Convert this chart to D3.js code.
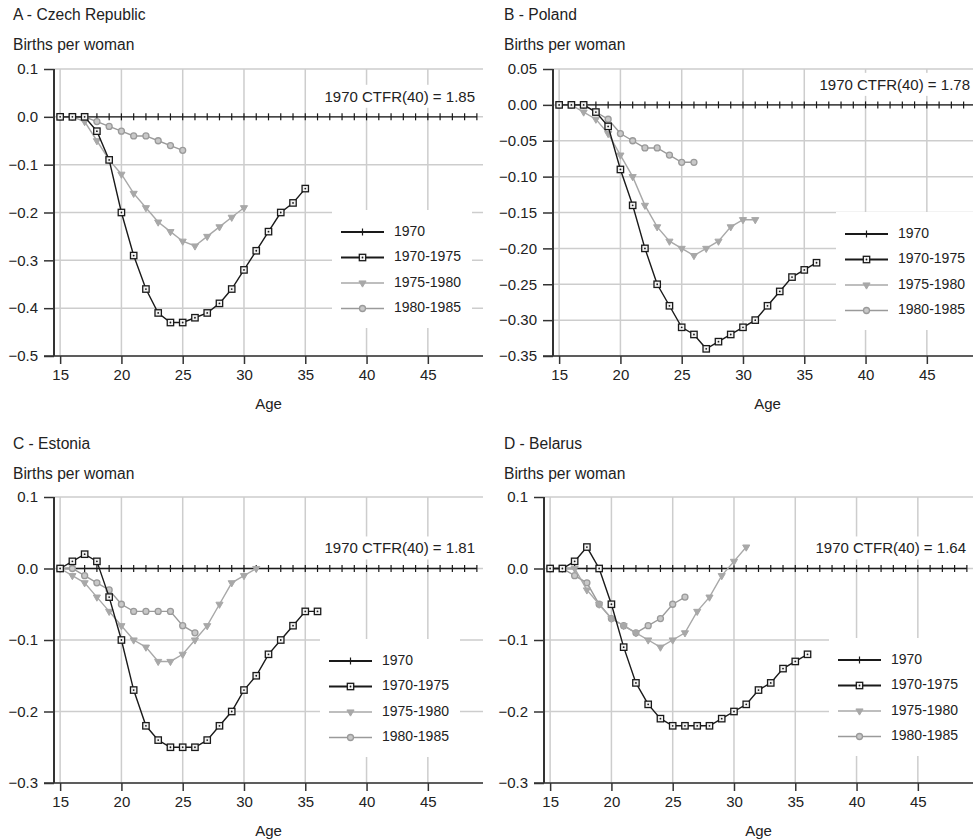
<!DOCTYPE html>
<meta charset="utf-8">
<script src="https://d3js.org/d3.v7.min.js"></script>
<style type="text/css">
body { margin: 0; background: #fff; }
text { font-family: "Liberation Sans", Arial, sans-serif; font-size: 15px; fill: #222; }
.titulo { font-size: 15.6px; }
.grade line { stroke: #cdcdcd; stroke-width: 1.5; }
.eixo path, .eixo line { stroke: #333; }
</style>
<body>
<svg id="canvas" width="973" height="840"></svg>
<script>

// idades (eixo X)
var ages = [15,16,17,18,19,20,21,22,23,24,25,26,27,28,29,30,31,32,33,34,35,36,37,38,39,40,41,42,43,44,45,46,47,48,49];
var seriesNames = ["1970", "1970-1975", "1975-1980", "1980-1985"];

// valores a partir dos 15 anos
var base1970 = [0,0,0,0,0,0,0,0,0,0,0,0,0,0,0,0,0,0,0,0,0,0,0,0,0,0,0,0,0,0,0,0,0,0,0];

var czech7075 = [0,0,0,-0.03,-0.09,-0.20,-0.29,-0.36,-0.41,-0.43,-0.43,-0.42,-0.41,-0.39,-0.36,-0.32,-0.28,-0.24,-0.20,-0.18,-0.15];
var czech7580 = [0,0,-0.01,-0.05,-0.09,-0.12,-0.16,-0.19,-0.22,-0.24,-0.26,-0.27,-0.25,-0.23,-0.21,-0.19];
var czech8085 = [0,0,0,-0.01,-0.02,-0.03,-0.04,-0.04,-0.05,-0.06,-0.07];

var poland7075 = [0,0,0,-0.01,-0.03,-0.09,-0.14,-0.20,-0.25,-0.28,-0.31,-0.32,-0.34,-0.33,-0.32,-0.31,-0.30,-0.28,-0.26,-0.24,-0.23,-0.22];
var poland7580 = [0,0,-0.01,-0.02,-0.04,-0.07,-0.10,-0.14,-0.17,-0.19,-0.20,-0.21,-0.20,-0.19,-0.17,-0.16,-0.16];
var poland8085 = [0,0,0,-0.01,-0.02,-0.04,-0.05,-0.06,-0.06,-0.07,-0.08,-0.08];

var estonia7075 = [0,0.01,0.02,0.01,-0.04,-0.10,-0.17,-0.22,-0.24,-0.25,-0.25,-0.25,-0.24,-0.22,-0.20,-0.17,-0.15,-0.12,-0.10,-0.08,-0.06,-0.06];
var estonia7580 = [0,-0.01,-0.02,-0.04,-0.06,-0.08,-0.10,-0.11,-0.13,-0.13,-0.12,-0.10,-0.08,-0.05,-0.02,-0.01,0];
var estonia8085 = [0,0,-0.01,-0.02,-0.03,-0.05,-0.06,-0.06,-0.06,-0.06,-0.08,-0.09];

var belarus7075 = [0,0,0.01,0.03,0,-0.05,-0.11,-0.16,-0.19,-0.21,-0.22,-0.22,-0.22,-0.22,-0.21,-0.20,-0.19,-0.17,-0.16,-0.14,-0.13,-0.12];
var belarus7580 = [0,0,0,-0.03,-0.05,-0.07,-0.08,-0.09,-0.10,-0.11,-0.10,-0.09,-0.06,-0.04,-0.01,0.01,0.03];
var belarus8085 = [0,0,-0.01,-0.02,-0.05,-0.07,-0.08,-0.09,-0.08,-0.07,-0.05,-0.04];

var czechTicks = [0.1,0,-0.1,-0.2,-0.3,-0.4,-0.5];
var polandTicks = [0.05,0,-0.05,-0.10,-0.15,-0.20,-0.25,-0.30,-0.35];
var smallTicks = [0.1,0,-0.1,-0.2,-0.3];
var ageTicks = [15,20,25,30,35,40,45];

var paineis = [
    {title: "A - Czech Republic", ctfr: "1.85", s: [base1970, czech7075, czech7580, czech8085],
     ticks: czechTicks, fmt: ".1f", left: 54, right: 483, top: 69, bottom: 356, tx: 13, ty: 0,
     ctfrX: 475, legX: 332, legY: 210, legW: 140},
    {title: "B - Poland", ctfr: "1.78", s: [base1970, poland7075, poland7580, poland8085],
     ticks: polandTicks, fmt: ".2f", left: 553, right: 982, top: 69, bottom: 356, tx: 504, ty: 0,
     ctfrX: 970, legX: 836, legY: 212, legW: 145},
    {title: "C - Estonia", ctfr: "1.81", s: [base1970, estonia7075, estonia7580, estonia8085],
     ticks: smallTicks, fmt: ".1f", left: 54, right: 483, top: 497, bottom: 783, tx: 13, ty: 429,
     ctfrX: 475, legX: 320, legY: 639, legW: 140},
    {title: "D - Belarus", ctfr: "1.64", s: [base1970, belarus7075, belarus7580, belarus8085],
     ticks: smallTicks, fmt: ".1f", left: 544, right: 973, top: 497, bottom: 783, tx: 504, ty: 429,
     ctfrX: 966, legX: 829, legY: 638, legW: 146}
];

var estilos = [
    {cor: "#1a1a1a", marca: "plus"},
    {cor: "#1a1a1a", marca: "square"},
    {cor: "#a8a8a8", marca: "tri"},
    {cor: "#9a9a9a", marca: "circle"}
];

var svg = d3.select("#canvas");

function desenhaMarca(g, tipo, cx, cy) {
    if (tipo === "plus") {
        g.append("line").attr("x1", cx).attr("x2", cx).attr("y1", cy - 3.5).attr("y2", cy + 3.5)
            .style("stroke", "#1a1a1a").style("stroke-width", 1.2);
    } else if (tipo === "square") {
        g.append("rect").attr("x", cx - 3.2).attr("y", cy - 3.2).attr("width", 6.4).attr("height", 6.4)
            .style("fill", "#f2f2f2").style("stroke", "#1a1a1a").style("stroke-width", 1.3);
        g.append("circle").attr("cx", cx).attr("cy", cy).attr("r", 0.9).style("fill", "#1a1a1a");
    } else if (tipo === "tri") {
        g.append("path").attr("d", d3.symbol().type(d3.symbolTriangle).size(22)())
            .attr("transform", "translate(" + cx + "," + cy + ") rotate(180)")
            .style("fill", "#a8a8a8").style("stroke", "#a8a8a8");
    } else {
        g.append("circle").attr("cx", cx).attr("cy", cy).attr("r", 3)
            .style("fill", "#c8c8c8").style("stroke", "#9a9a9a").style("stroke-width", 1.3);
    }
}

paineis.forEach(function(p) {
    var x = d3.scaleLinear().domain([14.5, 49.5]).range([p.left, p.right]);
    var y = d3.scaleLinear().domain([d3.min(p.ticks), d3.max(p.ticks)]).range([p.bottom, p.top]);
    var g = svg.append("g");

    // titulos
    g.append("text").attr("class", "titulo").attr("x", p.tx).attr("y", p.ty + 20).text(p.title);
    g.append("text").attr("class", "titulo").attr("x", p.tx).attr("y", p.ty + 50).text("Births per woman");

    // grade
    var grade = g.append("g").attr("class", "grade");
    grade.selectAll(".v").data(ageTicks).enter().append("line")
        .attr("x1", function(d) { return x(d); }).attr("x2", function(d) { return x(d); })
        .attr("y1", p.top).attr("y2", p.bottom);
    grade.selectAll(".h").data(p.ticks).enter().append("line")
        .attr("x1", p.left).attr("x2", p.right)
        .attr("y1", function(d) { return y(d); }).attr("y2", function(d) { return y(d); });

    // fundo branco da legenda e do texto CTFR
    g.append("rect").attr("x", p.legX).attr("y", p.legY).attr("width", p.legW).attr("height", 118)
        .style("fill", "#fff");
    var ctfr = g.append("text").attr("x", p.ctfrX).attr("y", y(0) - 19)
        .attr("text-anchor", "end").attr("dominant-baseline", "middle")
        .text("1970 CTFR(40) = " + p.ctfr);
    var bb = ctfr.node().getBBox();
    g.insert("rect", "text:last-of-type")
        .attr("x", bb.x - 6).attr("y", bb.y - 3).attr("width", bb.width + 10).attr("height", bb.height + 6)
        .style("fill", "#fff");
    ctfr.raise();

    // eixos
    var yAxis = d3.axisLeft(y).tickValues(p.ticks).tickSize(10).tickPadding(6)
        .tickFormat(function(d) { return d3.format(p.fmt)(d); });
    var ya = g.append("g").attr("class", "eixo").attr("transform", "translate(" + p.left + ",0)").call(yAxis);
    ya.select(".domain").remove();
    ya.selectAll("text").style("font-size", "15px").style("fill", "#222").style("font-family", null);
    ya.selectAll("line").style("stroke-width", 1.5);

    var xAxis = d3.axisBottom(x).tickValues(ageTicks).tickSize(8).tickPadding(5);
    var xa = g.append("g").attr("class", "eixo").attr("transform", "translate(0," + p.bottom + ")").call(xAxis);
    xa.select(".domain").remove();
    xa.selectAll("text").style("font-size", "15px").style("fill", "#222").style("font-family", null);
    xa.selectAll("line").style("stroke-width", 1.5);

    g.append("line").attr("x1", p.left - 10).attr("x2", p.right).attr("y1", p.bottom).attr("y2", p.bottom)
        .style("stroke", "#333").style("stroke-width", 1.5);
    g.append("line").attr("x1", p.left).attr("x2", p.left).attr("y1", p.top).attr("y2", p.bottom)
        .style("stroke", "#333").style("stroke-width", 2);

    g.append("text").attr("x", (p.left + p.right) / 2).attr("y", p.bottom + 53)
        .attr("text-anchor", "middle").text("Age");

    // linhas e pontos
    var line = d3.line()
        .x(function(d, i) { return x(ages[i]); })
        .y(function(d) { return y(d); });
    [0, 3, 2, 1].forEach(function(k) {
        var vals = p.s[k];
        var sg = g.append("g");
        sg.append("path").attr("d", line(vals))
            .style("fill", "none").style("stroke", estilos[k].cor).style("stroke-width", 1.4);
        vals.forEach(function(v, i) { desenhaMarca(sg, estilos[k].marca, x(ages[i]), y(v)); });
    });

    // legenda
    seriesNames.forEach(function(nome, k) {
        var ly = p.legY + 22 + k * 25.5;
        var lg = g.append("g");
        lg.append("line").attr("x1", p.legX + 9).attr("x2", p.legX + 52).attr("y1", ly).attr("y2", ly)
            .style("stroke", estilos[k].cor).style("stroke-width", k < 2 ? 1.8 : 1.5);
        desenhaMarca(lg, estilos[k].marca, p.legX + 30.5, ly);
        lg.append("text").attr("x", p.legX + 62).attr("y", ly).attr("dominant-baseline", "middle")
            .style("font-size", "14px").text(nome);
    });
});
</script>
</body>
